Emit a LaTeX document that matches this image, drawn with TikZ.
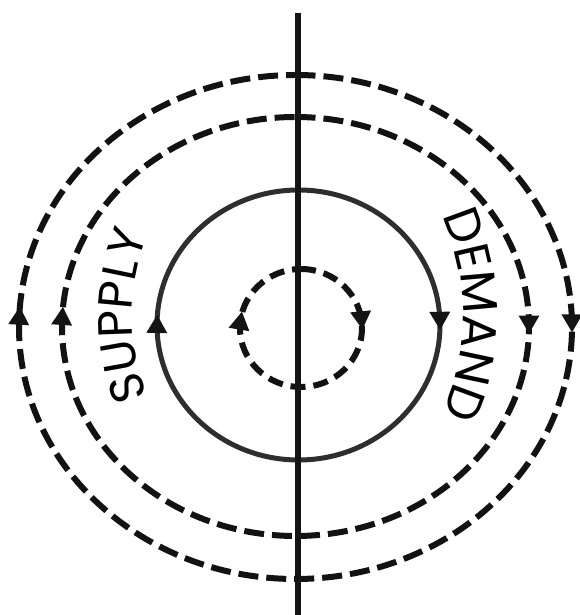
\documentclass[tikz,border=0pt]{standalone}
\usepackage{fontspec}
\newfontfamily\lblfont{Poppins}
\usetikzlibrary{decorations.markings,decorations.text,calc}
\begin{document}
\begin{tikzpicture}[x=1pt,y=1pt,
  dashring/.style={line width=6pt, dash pattern=on 20pt off 8pt, draw=black!93},
  smallring/.style={line width=6pt, dash pattern=on 15pt off 8pt, draw=black!93},
  solidring/.style={line width=5pt, draw=black!82},
  headfill/.style={fill=black!92, draw=none},
  arrowsat/.style 2 args={postaction={decorate}, decoration={markings,
      mark=at position #1 with {\fill[headfill] (7pt,0pt) -- (-11pt,10.5pt) -- (-11pt,-10.5pt) -- cycle;},
      mark=at position #2 with {\fill[headfill] (7pt,0pt) -- (-11pt,10.5pt) -- (-11pt,-10.5pt) -- cycle;}}},
  axis/.style={line width=6pt, draw=black!92},
  label/.style 2 args={decoration={text along path, text align=center,
      text={|\lblfont\fontsize{#2}{#2}\selectfont|#1}}, decorate}
]
\useasboundingbox (0,0) rectangle (579,615);
\coordinate (co) at (295.5,288);
\coordinate (c2) at (295.5,288.5);
\coordinate (cs) at (298.5,290);
\coordinate (ci) at (301,287);
\coordinate (csup) at (347,299);
\coordinate (cdem) at (223,300);
\coordinate (top) at (298,602);
\coordinate (bot) at (298,-2);
% outer dashed ring
\draw[dashring, arrowsat={0.249}{0.758}] ($(co)+(0,252)$) arc[start angle=90, end angle=-270, x radius=276.5, y radius=252];
% second dashed ring
\draw[dashring, arrowsat={0.25}{0.759}] ($(c2)+(0,209.5)$) arc[start angle=90, end angle=-270, x radius=233.5, y radius=209.5];
% solid ring
\draw[solidring, arrowsat={0.2475}{0.7535}] ($(cs)+(0,135)$) arc[start angle=90, end angle=-270, x radius=141.5, y radius=135];
% inner dashed ring
\draw[smallring, arrowsat={0.235}{0.775}] ($(ci)+(0,59)$) arc[start angle=90, end angle=-270, x radius=61, y radius=59];
% axis
\draw[axis] (top) -- (bot);
% labels
\path[label={SUPPLY}{48}] ($(csup)+(210:215)$) arc[start angle=210, end angle=150, radius=215];
\path[label={DEMAND}{49}] ($(cdem)+(32:240)$) arc[start angle=32, end angle=-32, radius=240];
\end{tikzpicture}
\end{document}
